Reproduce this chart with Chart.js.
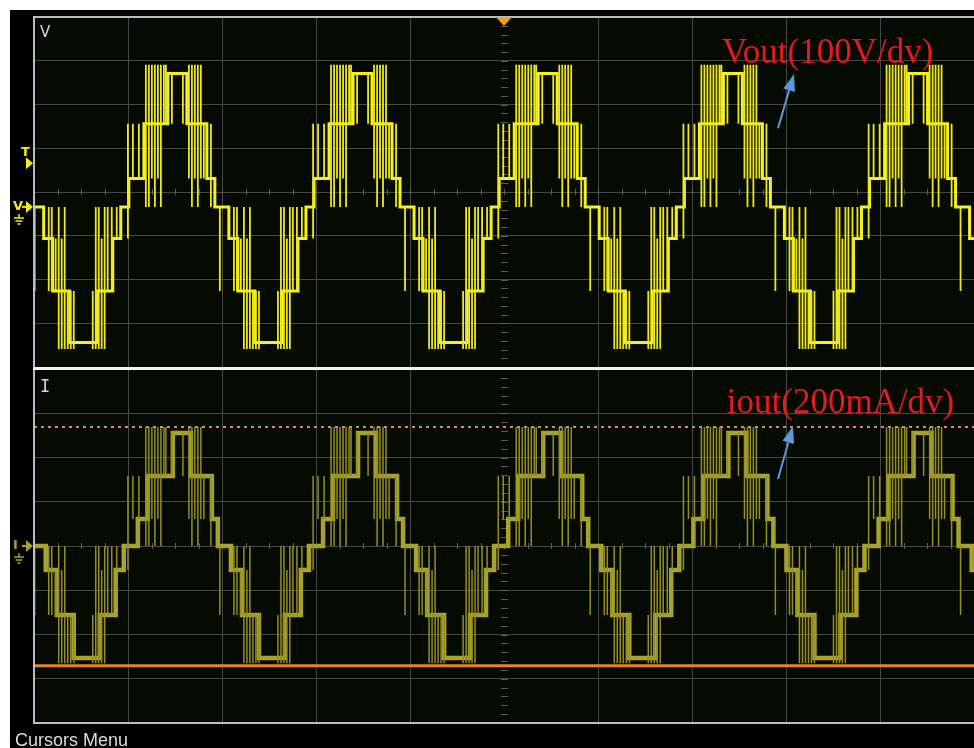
<!DOCTYPE html>
<html>
<head>
<meta charset="utf-8">
<title>Vout / iout</title>
<script src="https://cdn.jsdelivr.net/npm/chart.js@4.4.1/dist/chart.umd.min.js"></script>
<style>
  html, body { margin: 0; padding: 0; background: #fff; }
  #wrap { position: relative; width: 974px; height: 748px; overflow: hidden; }
  #wrap canvas { position: absolute; left: 0; top: 0; }
</style>
</head>
<body>
<div id="wrap">
  <canvas id="vChart" width="974" height="748"></canvas>
  <canvas id="iChart" width="974" height="748"></canvas>
</div>
<script>
// time axis is in screen divisions (10 across)
var gridDivs = [0, 1, 2, 3, 4, 5, 6, 7, 8, 9, 10];
// centre of every positive half-cycle on screen (div)
var cycleCentres = [-0.45, 1.52, 3.49, 5.46, 7.43, 9.40];

// staircase: switching instants relative to the cycle centre (div) and the level after each
var vStepTimes  = [-0.511, -0.351, -0.096, 0.106, 0.319, 0.404, 0.553, 0.649, 0.830, 1.117, 1.288, 1.373];
var vStepLevels = [1, 2, 3, 2, 1, 0, -1, -2, -3, -2, -1, 0];
var iStepTimes  = [-0.415, -0.309, -0.043, 0.149, 0.372, 0.436, 0.575, 0.692, 0.873, 1.149, 1.319, 1.405];
var iStepLevels = [1, 2, 3, 2, 1, 0, -1, -2, -3, -2, -1, 0];

// output levels -4..4 (+-4 is the overshoot of the PWM pulses)
var vLevels = [-325, -310, -192, -72, 0, 65, 190, 305, 325];   // V
var iLevels = [-530, -506, -312, -108, 0, 122, 316, 511, 538]; // mA

// PWM pulses: time from cycle centre (div), lowest and highest level reached
var pulseTimes = [-0.521, -0.468, -0.404, -0.330, -0.298, -0.266, -0.234, -0.202, -0.170, -0.138, -0.117,
                  -0.053, 0.064, 0.128, 0.160, 0.191, 0.223, 0.255, 0.287, 0.362, 0.457,
                  0.607, 0.639, 0.681, 0.713, 0.745, 0.777, 0.809, 0.841, 0.873,
                  1.075, 1.107, 1.139, 1.170, 1.202, 1.234, 1.277, 1.330];
var pulseLo = [-1, 1, 1, 0, 0, 1, 0, 1, 0, 2, 2, 2, 2, 1, 0, 1, 0, 1, 1, 0, -2,
               -2, -2, -2, -4, -4, -4, -4, -4, -4, -4, -4, -4, -4, -4, -2, -2, -1];
var pulseHi = [2, 2, 2, 4, 4, 4, 4, 4, 4, 4, 4, 3, 3, 4, 4, 4, 4, 4, 2, 2, 0,
               0, 0, -1, 0, -1, 0, -2, -2, -2, -2, 0, 0, -1, 0, 0, 0, 0];

// scope settings
var vPerDiv = 100;        // V/div
var vCentre = 34;         // V at screen centre (ground marker 0.34 div lower)
var iPerDiv = 200;        // mA/div
var triggerLevel = 100;   // V
var iCursorA = 538;       // mA, dashed cursor
var iCursorB = -541;      // mA, solid cursor

var gridColour = '#474747';

function stepTrace(times, levels, table) {
  var pts = [], prev = 0;
  cycleCentres.forEach(function (c) {
    for (var i = 0; i < times.length; i++) {
      pts.push({ x: c + times[i], y: table[prev + 4] });
      pts.push({ x: c + times[i], y: table[levels[i] + 4] });
      prev = levels[i];
    }
  });
  return pts;
}

function pulseTrace(table) {
  var pts = [];
  cycleCentres.forEach(function (c) {
    for (var i = 0; i < pulseTimes.length; i++) {
      pts.push({ x: c + pulseTimes[i], y: table[pulseLo[i] + 4] });
      pts.push({ x: c + pulseTimes[i], y: table[pulseHi[i] + 4] });
      pts.push({ x: c + pulseTimes[i], y: null });
    }
  });
  return pts;
}

function rightTriangle(c, x, y, colour) {
  c.fillStyle = colour;
  c.beginPath();
  c.moveTo(x - 7, y - 6);
  c.lineTo(x, y);
  c.lineTo(x - 7, y + 6);
  c.closePath();
  c.fill();
}

function groundSymbol(c, x, y, colour) {
  c.strokeStyle = colour;
  c.lineWidth = 1.5;
  c.beginPath();
  c.moveTo(x, y - 4); c.lineTo(x, y);
  c.moveTo(x - 5, y); c.lineTo(x + 5, y);
  c.moveTo(x - 3.5, y + 3); c.lineTo(x + 3.5, y + 3);
  c.moveTo(x - 1.5, y + 6); c.lineTo(x + 1.5, y + 6);
  c.stroke();
}

function arrow(c, x0, y0, x1, y1) {
  var a = Math.atan2(y1 - y0, x1 - x0), len = 17, half = 6;
  var bx = x1 - Math.cos(a) * len, by = y1 - Math.sin(a) * len;
  c.strokeStyle = '#5b9ad6';
  c.fillStyle = '#5b9ad6';
  c.lineWidth = 2;
  c.beginPath(); c.moveTo(x0, y0); c.lineTo(bx, by); c.stroke();
  c.beginPath();
  c.moveTo(x1, y1);
  c.lineTo(bx + Math.sin(a) * half, by - Math.cos(a) * half);
  c.lineTo(bx - Math.sin(a) * half, by + Math.cos(a) * half);
  c.closePath();
  c.fill();
}

// backgrounds, graticule ticks, frame, markers and the red labels
function scopeDecor(cfg) {
  return {
    id: 'scope',
    beforeDraw: function (chart) {
      var c = chart.ctx, a = chart.chartArea;
      c.save();
      if (cfg.page) {
        c.fillStyle = '#ffffff';
        c.fillRect(0, 0, chart.width, chart.height);
        c.fillStyle = '#000000';
        c.fillRect(10, 10, chart.width - 10, chart.height - 10);
      }
      c.fillStyle = '#050a03';
      c.fillRect(a.left, a.top, a.right - a.left, a.bottom - a.top);
      c.restore();
    },
    beforeDatasetsDraw: function (chart) {
      var c = chart.ctx, xs = chart.scales.x, ys = chart.scales.y;
      var yc = ys.getPixelForValue((ys.min + ys.max) / 2), xc = xs.getPixelForValue(5);
      c.save();
      c.strokeStyle = '#5e5e5e';
      c.lineWidth = 1;
      c.beginPath();
      for (var d = 0; d <= 10; d += 0.25) {
        var px = Math.round(xs.getPixelForValue(d)) + 0.5;
        c.moveTo(px, yc - 3); c.lineTo(px, yc + 3);
      }
      var step = (ys.max - ys.min) / 40;
      for (var k = 1; k < 40; k++) {
        var py = Math.round(ys.getPixelForValue(ys.min + k * step)) + 0.5;
        c.moveTo(xc - 3, py); c.lineTo(xc + 4, py);
      }
      c.stroke();
      c.restore();
    },
    afterDraw: function (chart) {
      var c = chart.ctx, a = chart.chartArea, xs = chart.scales.x, ys = chart.scales.y;
      c.save();
      // frame
      c.fillStyle = '#bdbdbd';
      c.fillRect(a.left - 1, a.top, 2, a.bottom - a.top);
      if (cfg.name === 'V') {
        c.fillRect(a.left - 1, a.top - 1, a.right - a.left + 1, 2);
      } else {
        c.fillRect(a.left - 1, a.bottom - 1, a.right - a.left + 1, 2);
        c.fillStyle = '#f2f2f2';
        c.fillRect(a.left - 1, a.top - 2, a.right - a.left + 1, 3);
      }
      // channel name
      c.fillStyle = '#d6d6d6';
      c.textBaseline = 'alphabetic';
      c.font = cfg.name === 'V' ? '15px "DejaVu Sans"' : '17px "DejaVu Sans Mono"';
      c.fillText(cfg.name, a.left + 6, a.top + (cfg.name === 'V' ? 20 : 23));
      // ground marker
      var gy = ys.getPixelForValue(0);
      rightTriangle(c, a.left - 1, gy, cfg.colour);
      c.fillStyle = cfg.colour;
      c.font = 'bold 13px "DejaVu Sans"';
      c.fillText(cfg.name, 13, gy + 3);
      c.fillRect(22, gy - 1, 6, 2);
      groundSymbol(c, 19, gy + 11, cfg.colour);
      if (cfg.name === 'V') {
        // trigger level and trigger position
        var ty = ys.getPixelForValue(triggerLevel);
        rightTriangle(c, a.left - 1, ty, cfg.colour);
        c.fillStyle = cfg.colour;
        c.fillText('T', 21, ty - 7);
        var tx = xs.getPixelForValue(5);
        c.fillStyle = '#f5a21e';
        c.beginPath();
        c.moveTo(tx - 8, a.top);
        c.lineTo(tx + 8, a.top);
        c.lineTo(tx, a.top + 9);
        c.closePath();
        c.fill();
        c.fillStyle = '#dcdcdc';
        c.font = '18px "Liberation Sans"';
        c.fillText('Cursors Menu', 15, 746);
      }
      // red annotation
      c.fillStyle = '#e31b1b';
      c.font = '35px "Liberation Serif"';
      c.fillText(cfg.label, xs.getPixelForValue(cfg.labelAt[0]), ys.getPixelForValue(cfg.labelAt[1]));
      arrow(c, xs.getPixelForValue(cfg.arrow[0]), ys.getPixelForValue(cfg.arrow[1]),
               xs.getPixelForValue(cfg.arrow[2]), ys.getPixelForValue(cfg.arrow[3]));
      c.restore();
    }
  };
}

function scopeOptions(yMin, yMax, yStep, padTop, padBottom) {
  var yGrid = [];
  for (var k = 0; k <= 8; k++) yGrid.push(yMin + k * yStep);
  return {
    responsive: false,
    animation: false,
    devicePixelRatio: 1,
    events: [],
    layout: { autoPadding: false, padding: { left: 34, top: padTop, right: 0, bottom: padBottom } },
    elements: {
      point: { radius: 0 },
      line: { tension: 0, borderCapStyle: 'butt', borderJoinStyle: 'miter' }
    },
    plugins: { legend: { display: false }, tooltip: { enabled: false } },
    scales: {
      x: {
        type: 'linear', min: 0, max: 10,
        afterFit: function (s) { s.height = 0; },
        afterBuildTicks: function (s) { s.ticks = gridDivs.map(function (d) { return { value: d }; }); },
        ticks: { display: false },
        border: { display: false },
        grid: {
          drawTicks: false,
          color: function (ctx) { return ctx.tick && ctx.tick.value === 5 ? 'rgba(0,0,0,0)' : gridColour; }
        }
      },
      y: {
        type: 'linear', min: yMin, max: yMax,
        afterFit: function (s) { s.width = 0; },
        afterBuildTicks: function (s) { s.ticks = yGrid.map(function (v) { return { value: v }; }); },
        ticks: { display: false },
        border: { display: false },
        grid: { drawTicks: false, color: gridColour }
      }
    }
  };
}

new Chart(document.getElementById('vChart'), {
  type: 'line',
  data: {
    datasets: [
      { label: 'Vout pulses', data: pulseTrace(vLevels), borderColor: '#ede71e', borderWidth: 1.8 },
      { label: 'Vout', data: stepTrace(vStepTimes, vStepLevels, vLevels), borderColor: '#f6f01c', borderWidth: 3 }
    ]
  },
  options: scopeOptions(vCentre - 4 * vPerDiv, vCentre + 4 * vPerDiv, vPerDiv, 17, 748 - 367),
  plugins: [scopeDecor({
    page: true, name: 'V', colour: '#f2ec1a',
    label: 'Vout(100V/dv)', labelAt: [7.32, 329],
    arrow: [7.915, 180, 8.085, 304]
  })]
});

new Chart(document.getElementById('iChart'), {
  type: 'line',
  data: {
    datasets: [
      { label: 'cursor A', data: [{ x: 0, y: iCursorA }, { x: 10, y: iCursorA }], borderColor: '#d98c4e', borderWidth: 2, borderDash: [3, 4] },
      { label: 'cursor B', data: [{ x: 0, y: iCursorB }, { x: 10, y: iCursorB }], borderColor: '#e8842c', borderWidth: 3 },
      { label: 'iout pulses', data: pulseTrace(iLevels), borderColor: '#948e24', borderWidth: 1.5 },
      { label: 'iout', data: stepTrace(iStepTimes, iStepLevels, iLevels), borderColor: '#a9a32b', borderWidth: 4.5 }
    ]
  },
  options: scopeOptions(-4 * iPerDiv, 4 * iPerDiv, iPerDiv, 369, 748 - 723),
  plugins: [scopeDecor({
    page: false, name: 'I', colour: '#a8a22a',
    label: 'iout(200mA/dv)', labelAt: [7.37, 601],
    arrow: [7.915, 303, 8.074, 542]
  })]
});
</script>
</body>
</html>
